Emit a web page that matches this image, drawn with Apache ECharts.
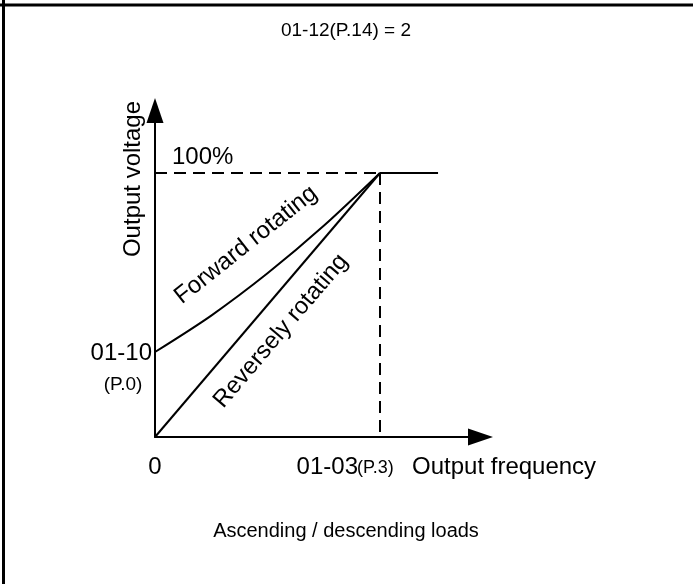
<!DOCTYPE html>
<html>
<head>
<meta charset="utf-8">
<script src="https://cdn.jsdelivr.net/npm/echarts@6/dist/echarts.min.js"></script>
<style>
html,body{margin:0;padding:0;background:#fff;}
#chart{width:693px;height:584px;}
</style>
</head>
<body>
<div id="chart"></div>
<script>
// ---- data ----
const titleText = '01-12(P.14) = 2';
const footerText = 'Ascending / descending loads';
const xAxisName = 'Output frequency';
const yAxisName = 'Output voltage';
const ratedFreq = 1;          // 01-03 (P.3)
const ratedVolt = 1;          // 100%
const boostVolt = 0.322;      // 01-10 (P.0)
const flatEndFreq = 1.258;    // end of the solid 100% line
const forwardX = [0, 0.25, 0.5, 0.75, 1];
const forwardY = [0.322, 0.46, 0.62, 0.80, 1];
const reverseX = [0, 1];
const reverseY = [0, 1];
const xTickLabels = ['0', '01-03', '(P.3)'];
const yTickLabels = ['100%', '01-10', '(P.0)'];
const curveLabels = ['Forward rotating', 'Reversely rotating'];

const zip = (a, b) => a.map((v, i) => [v, b[i]]);
const FONT = '"Liberation Sans", Arial, Helvetica, sans-serif';
const chart = echarts.init(document.getElementById('chart'), null, {renderer: 'canvas'});

const lineBase = {type: 'line', showSymbol: false, symbol: 'none', silent: true, animation: false};
const blk = '#000';

chart.setOption({
  animation: false,
  backgroundColor: '#fff',
  grid: {left: 155, top: 110.5, width: 325.5, height: 326.5, containLabel: false},
  xAxis: {
    type: 'value', min: 0, max: 1.4467,
    axisLine: {show: true, lineStyle: {color: blk, width: 2}, symbol: ['none', 'triangle'], symbolSize: [17, 25]},
    axisTick: {show: false}, axisLabel: {show: false}, splitLine: {show: false}
  },
  yAxis: {
    type: 'value', min: 0, max: 1.2367,
    axisLine: {show: true, lineStyle: {color: blk, width: 2}, symbol: ['none', 'triangle'], symbolSize: [17, 25]},
    axisTick: {show: false}, axisLabel: {show: false}, splitLine: {show: false}
  },
  series: [
    Object.assign({}, lineBase, {name: curveLabels[0], data: zip(forwardX, forwardY), smooth: 0.3, lineStyle: {color: blk, width: 2}}),
    Object.assign({}, lineBase, {name: curveLabels[1], data: zip(reverseX, reverseY), lineStyle: {color: blk, width: 2}}),
    Object.assign({}, lineBase, {name: 'h-dash', data: [[0, ratedVolt], [ratedFreq, ratedVolt]], lineStyle: {color: blk, width: 2, type: [12, 7]}}),
    Object.assign({}, lineBase, {name: 'v-dash', data: [[ratedFreq, ratedVolt], [ratedFreq, 0]], lineStyle: {color: blk, width: 2, type: [12, 7]}}),
    Object.assign({}, lineBase, {name: 'flat', data: [[ratedFreq, ratedVolt], [flatEndFreq, ratedVolt]], lineStyle: {color: blk, width: 2}})
  ]
});

const px = (x, y) => chart.convertToPixel({gridIndex: 0}, [x, y]);
const o = px(0, 0);
const peak = px(ratedFreq, ratedVolt);
const boost = px(0, boostVolt);
const fwdStart = boost, revStart = o;

function txt(x, y, text, size, align, vAlign, rot) {
  return {type: 'text', x: x, y: y, rotation: rot || 0, silent: true,
    style: {text: text, fill: blk, font: size + 'px ' + FONT, align: align || 'center', verticalAlign: vAlign || 'middle'}};
}
const angF = Math.atan2(fwdStart[1] - peak[1], peak[0] - fwdStart[0]);
const angR = Math.atan2(revStart[1] - peak[1], peak[0] - revStart[0]);

chart.setOption({
  graphic: [
    {type: 'line', shape: {x1: 0, y1: 5, x2: 693, y2: 5}, style: {stroke: blk, lineWidth: 3}, silent: true},
    {type: 'line', shape: {x1: 3.5, y1: 0, x2: 3.5, y2: 584}, style: {stroke: blk, lineWidth: 3}, silent: true},
    txt(346, 31, titleText, 19),
    txt(346, 531, footerText, 20),
    txt(o[0] - 22, 179, yAxisName, 24, 'center', 'middle', Math.PI / 2),
    txt(o[0] + 17, peak[1] - 16, yTickLabels[0], 24, 'left'),
    txt(o[0] - 3, boost[1] + 1, yTickLabels[1], 24, 'right'),
    txt(o[0] - 32, boost[1] + 33, yTickLabels[2], 19),
    txt(o[0], o[1] + 30, xTickLabels[0], 24),
    txt(peak[0] - 22, o[1] + 30, xTickLabels[1], 24, 'right'),
    txt(peak[0] - 23, o[1] + 31, xTickLabels[2], 18, 'left'),
    txt(412, o[1] + 30, xAxisName, 24, 'left'),
    txt(246, 245, curveLabels[0], 24, 'center', 'middle', angF),
    txt(281, 331, curveLabels[1], 24, 'center', 'middle', angR)
  ]
});
</script>
</body>
</html>
